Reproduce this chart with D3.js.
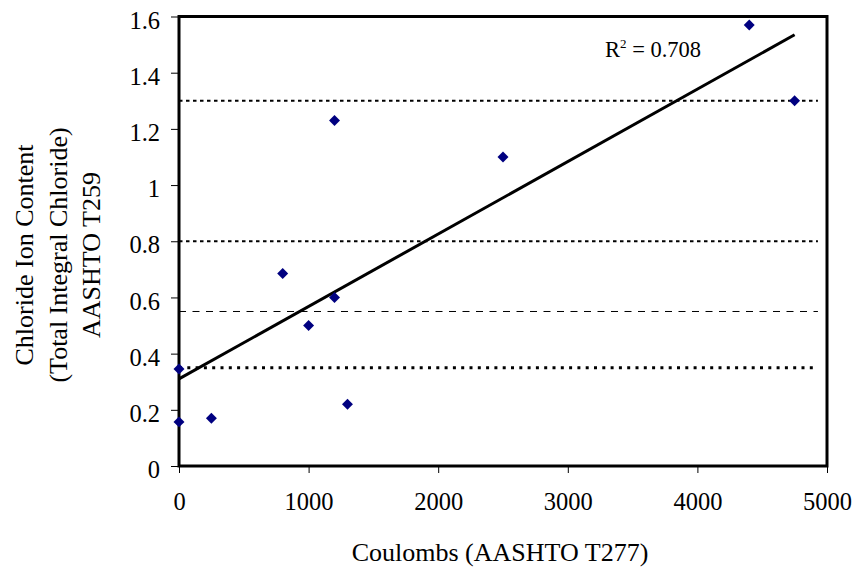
<!DOCTYPE html>
<html>
<head>
<meta charset="utf-8">
<script src="https://cdn.jsdelivr.net/npm/d3@7"></script>
<style>
  body { margin: 0; background: #fff; }
  svg { font-family: "Liberation Serif", "Times New Roman", serif; }
</style>
</head>
<body>
<svg width="855" height="567"></svg>
<script>
// data
const coulombs = [0, 0, 250, 800, 1000, 1200, 1200, 1300, 2500, 4400, 4750];
const chloride = [0.345, 0.157, 0.17, 0.685, 0.5, 1.23, 0.6, 0.22, 1.1, 1.57, 1.3];
const trendX = [0, 4750];
const trendY = [0.31, 1.535];
const dottedLevels = [1.3, 0.8];
const dashedLevels = [0.55];
const heavyDotLevels = [0.35];
const xTicks = [0, 1000, 2000, 3000, 4000, 5000];
const yTicks = [0, 0.2, 0.4, 0.6, 0.8, 1, 1.2, 1.4, 1.6];
const yTitle = ["Chloride Ion Content", "(Total Integral Chloride)", "AASHTO T259"];
const xTitle = "Coulombs (AASHTO T277)";
const rSquared = "0.708";

const svg = d3.select("svg");
const plotLeft = 179, plotRight = 827, plotTop = 16.5, plotBottom = 466;

const xScale = d3.scaleLinear().domain([0, 5000]).range([plotLeft, plotRight]);
const yScale = d3.scaleLinear().domain([0, 1.6]).range([plotBottom, plotTop]);

// reference lines
const hline = (levels, dash, w) => {
  svg.selectAll(null)
    .data(levels)
    .enter()
    .append("line")
    .attr("x1", xScale(0))
    .attr("x2", xScale(4930))
    .attr("y1", d => yScale(d))
    .attr("y2", d => yScale(d))
    .attr("stroke", "#000")
    .attr("stroke-width", w)
    .attr("stroke-dasharray", dash);
};
hline(dottedLevels, "3.5,3.5", 2);
hline(dashedLevels, "7,6.5", 1);
hline(heavyDotLevels, "3,5.3", 3);

// axes
const xAxis = d3.axisBottom(xScale).tickValues(xTicks).tickSize(7).tickFormat(d3.format("d"));
const yAxis = d3.axisLeft(yScale).tickValues(yTicks).tickSize(8).tickFormat(d => d3.format("")(d));

const gx = svg.append("g")
  .attr("transform", `translate(0, ${plotBottom})`)
  .call(xAxis);
const gy = svg.append("g")
  .attr("transform", `translate(${plotLeft}, 0)`)
  .call(yAxis);

[gx, gy].forEach(g => {
  g.select(".domain").remove();
  g.selectAll(".tick line").attr("stroke", "#000").attr("stroke-width", 1);
  g.selectAll(".tick text")
    .attr("fill", "#000")
    .style("font-family", "'Liberation Serif', serif")
    .style("font-size", "24.5px");
});
gx.selectAll(".tick text").attr("y", 44).attr("dy", null);
gy.selectAll(".tick text").attr("x", -19).attr("y", 3).attr("dy", "0.35em");

// trend line
svg.append("line")
  .attr("x1", xScale(trendX[0]))
  .attr("y1", yScale(trendY[0]))
  .attr("x2", xScale(trendX[1]))
  .attr("y2", yScale(trendY[1]))
  .attr("stroke", "#000")
  .attr("stroke-width", 3);

// frame
svg.append("rect")
  .attr("x", plotLeft)
  .attr("y", plotTop)
  .attr("width", plotRight - plotLeft)
  .attr("height", plotBottom - plotTop)
  .attr("fill", "none")
  .attr("stroke", "#000")
  .attr("stroke-width", 3);

// points
const points = coulombs.map((c, i) => [c, chloride[i]]);
svg.selectAll(".pt")
  .data(points)
  .enter()
  .append("path")
  .attr("class", "pt")
  .attr("d", d3.symbol(d3.symbolSquare, 60))
  .attr("transform", d => `translate(${xScale(d[0])}, ${yScale(d[1])}) rotate(45)`)
  .attr("fill", "#000080");

// R squared label
const rt = svg.append("text")
  .attr("x", 605)
  .attr("y", 57)
  .style("font-size", "22.5px");
rt.append("tspan").text("R");
rt.append("tspan").attr("dy", -9).style("font-size", "13px").text("2");
rt.append("tspan").attr("dy", 9).text(" = " + rSquared);

// axis titles
svg.append("text")
  .attr("x", 500)
  .attr("y", 561)
  .attr("text-anchor", "middle")
  .style("font-size", "26px")
  .text(xTitle);

svg.append("g")
  .attr("transform", "translate(0, 255) rotate(-90)")
  .selectAll("text")
  .data(yTitle)
  .enter()
  .append("text")
  .attr("x", 0)
  .attr("y", (d, i) => 33 + i * 33.5)
  .attr("text-anchor", "middle")
  .style("font-size", "26px")
  .text(d => d);
</script>
</body>
</html>
